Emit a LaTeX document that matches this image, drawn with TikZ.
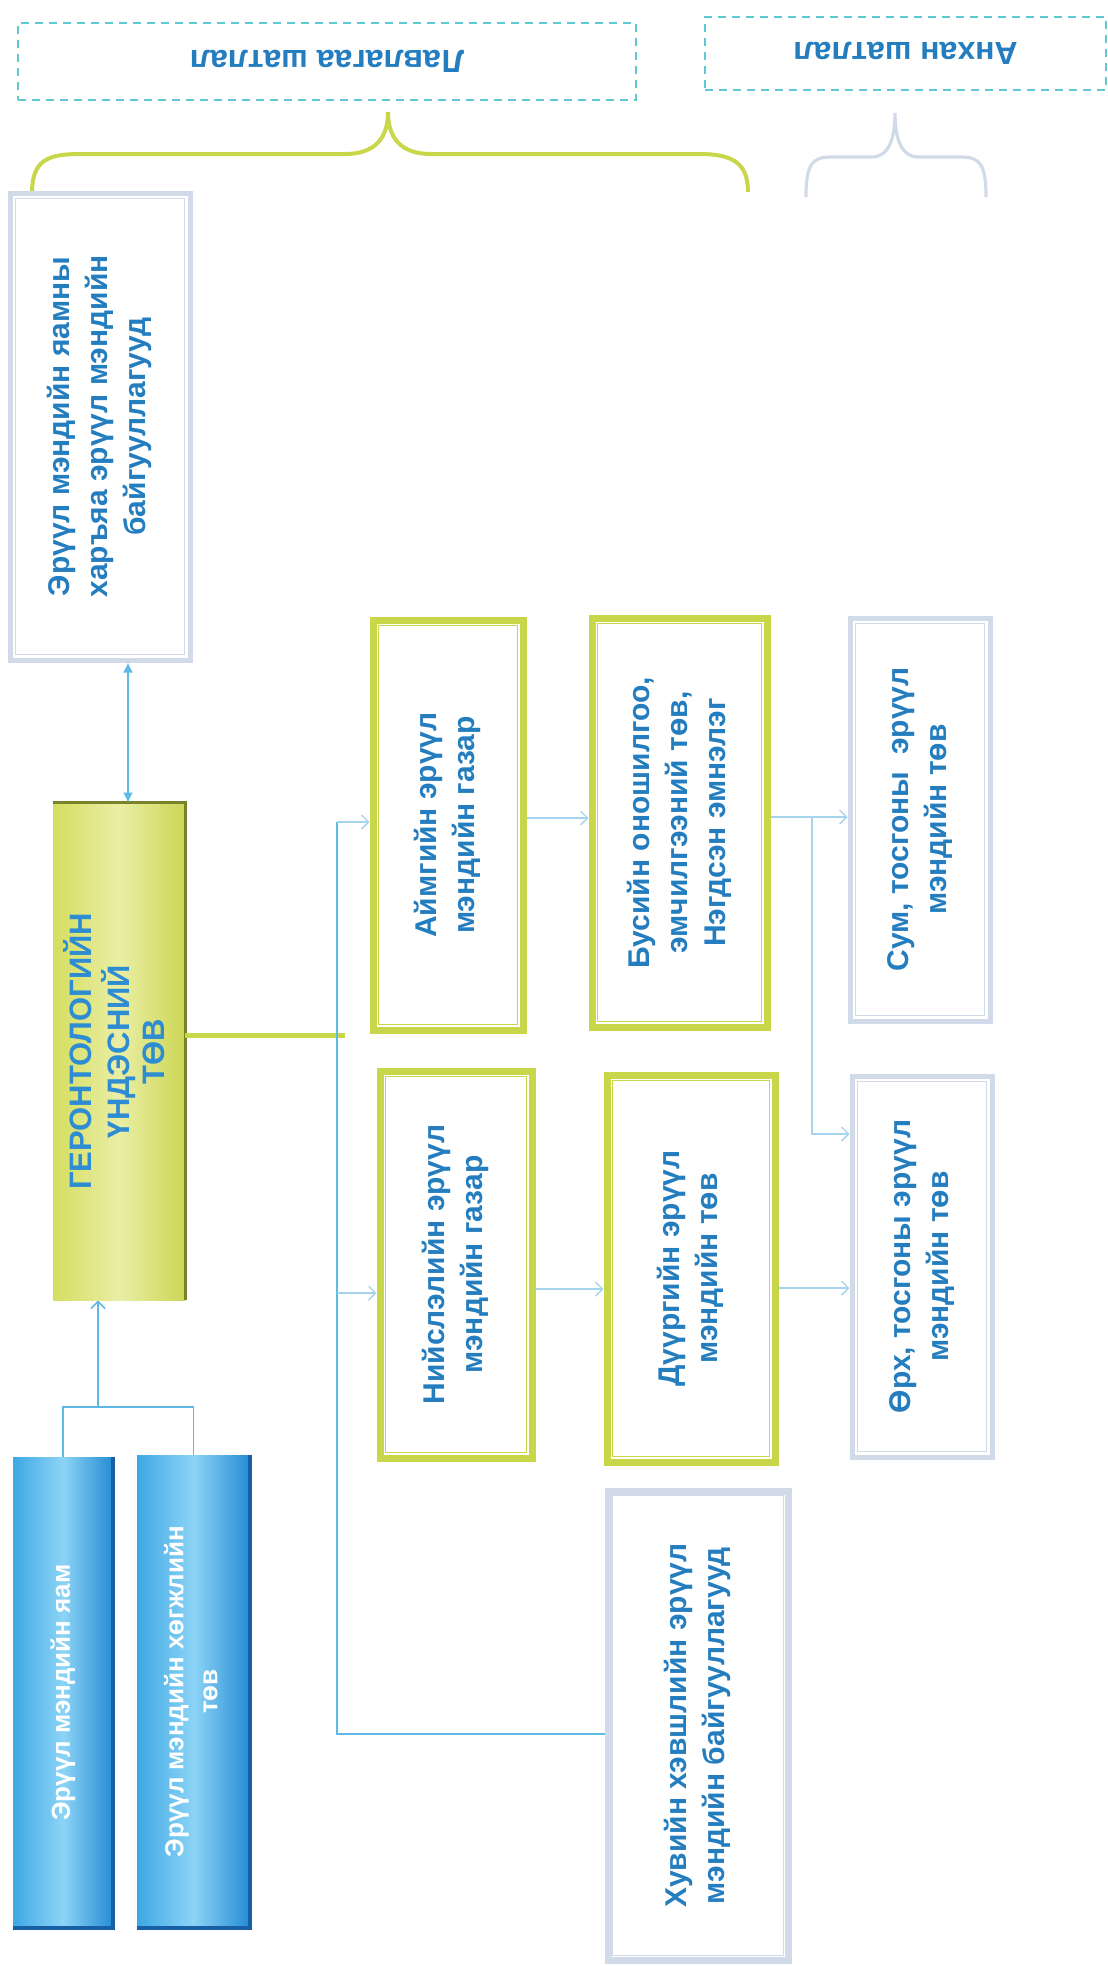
\documentclass[tikz,border=0pt]{standalone}
\usepackage{fontspec}
\setmainfont{Liberation Sans}
\usepackage{graphicx}
\usetikzlibrary{arrows.meta}
\usetikzlibrary{calc}

\definecolor{txtblue}{RGB}{35,125,190}
\definecolor{grlime}{RGB}{200,214,74}
\definecolor{limedark}{RGB}{120,130,42}
\definecolor{greyline}{RGB}{208,218,232}
\definecolor{linkblue}{RGB}{165,212,236}
\definecolor{linkdark}{RGB}{95,185,230}
\definecolor{dashcyan}{RGB}{95,200,212}
\definecolor{skyA}{RGB}{62,168,228}
\definecolor{skyB}{RGB}{140,212,246}
\definecolor{skyC}{RGB}{38,140,212}
\definecolor{skyedge}{RGB}{25,95,165}

\newcommand{\vtext}[1]{\rotatebox{90}{\begin{tabular}{@{}c@{}}#1\end{tabular}}}
\newcommand{\flipped}[1]{\rotatebox{180}{#1}}

\begin{document}
\begin{tikzpicture}[x=0.5pt, y=-0.5pt,
    >={Straight Barb[length=3.5pt, width=7pt]},
    box/.style={inner sep=0pt, text=txtblue, font=\fontsize{15}{19}\selectfont\bfseries},
    greenbox/.style={box, draw=grlime, line width=3.5pt, fill=white},
    greybox/.style={box, draw=greyline, line width=2.5pt, fill=white},
    bluebox/.style={box, text=white, font=\fontsize{13}{17}\selectfont\bfseries,
                    left color=skyA, right color=skyC, middle color=skyB},
    level/.style={box, draw=dashcyan, line width=0.8pt, dash pattern=on 4pt off 3pt,
                  font=\fontsize{16}{19}\selectfont\bfseries},
    link/.style={draw=linkblue, line width=0.7pt},
    strong link/.style={draw=linkdark, line width=0.8pt}]

    \useasboundingbox (0,0) rectangle (1108,1966);

    % levels on top (printed upside down)
    \node [level, minimum width=309pt, minimum height=38.5pt] (ref) at (327,61.5) {\flipped{Лавлагаа шатлал}};
    \node [level, minimum width=200.5pt, minimum height=36.5pt] (prim) at (905.5,53.5) {\flipped{Анхан шатлал}};

    \draw [grlime, line width=2pt] (32,193) .. controls (32,160) and (48,154) .. (80,154) -- (345,154)
          .. controls (375,154) and (388,138) .. (388,112) .. controls (388,138) and (401,154) .. (431,154)
          -- (700,154) .. controls (735,154) and (748,165) .. (748,192);
    \draw [greyline, line width=1.6pt] (806,197) .. controls (806,165) and (812,157) .. (830,157) -- (872,157)
          .. controls (888,157) and (895,140) .. (895,113) .. controls (895,140) and (902,157) .. (918,157)
          -- (962,157) .. controls (980,157) and (986,165) .. (986,197);

    % boxes
    \node [greybox, minimum width=90pt, minimum height=233.5pt] (yamny) at (100,426.5)
          {\vtext{Эрүүл мэндийн яамны\\харъяа эрүүл мэндийн\\байгууллагууд}};
    \node [box, minimum width=66pt, minimum height=248.5pt, text={rgb,255:red,45;green,140;blue,210},
           font=\fontsize{15.5}{17.5}\selectfont\bfseries,
           left color={rgb,255:red,212;green,222;blue,96}, right color={rgb,255:red,204;green,214;blue,84},
           middle color={rgb,255:red,234;green,238;blue,165}] (geron) at (119,1051.5)
          {\vtext{ГЕРОНТОЛОГИЙН\\ҮНДЭСНИЙ\\ТӨВ}};
    \draw [limedark, line width=1.6pt] (geron.north west) -- (geron.north east) -- (geron.south east);

    \node [greenbox, minimum width=75pt, minimum height=205pt] (aimag) at (448,825)
          {\vtext{Аймгийн эрүүл\\мэндийн газар}};
    \node [greenbox, minimum width=87.5pt, minimum height=204.5pt] (busiin) at (679.5,822.5)
          {\vtext{Бусийн оношилгоо,\\эмчилгээний төв,\\Нэгдсэн эмнэлэг}};
    \node [greybox, minimum width=70pt, minimum height=201.5pt] (sum) at (920,819.5)
          {\vtext{Сум, тосгоны~~эрүүл\\мэндийн төв}};
    \node [greenbox, minimum width=76pt, minimum height=193.5pt] (niisl) at (456,1264.5)
          {\vtext{Нийслэлийн эрүүл\\мэндийн газар}};
    \node [greenbox, minimum width=84pt, minimum height=193.5pt] (duureg) at (691,1268.5)
          {\vtext{Дүүргийн эрүүл\\мэндийн төв}};
    \node [greybox, minimum width=70pt, minimum height=190.5pt] (orkh) at (922,1266.5)
          {\vtext{Өрх, тосгоны эрүүл\\мэндийн төв}};
    \node [greybox, line width=3.5pt, minimum width=90pt, minimum height=234.5pt] (khuviin) at (698,1725.5)
          {\vtext{Хувийн хэвшлийн эрүүл\\мэндийн байгууллагууд}};

    \node [bluebox, minimum width=50pt, minimum height=235.5pt] (yam) at (63,1692.5)
          {\vtext{Эрүүл мэндийн яам}};
    \node [bluebox, minimum width=56.5pt, minimum height=236.5pt] (khugjil) at (193.5,1691.5)
          {\vtext{Эрүүл мэндийн хөгжлийн\\төв}};
    \foreach \n in {yam,khugjil}
      \draw [skyedge, line width=2pt] (\n.north east) -- (\n.south east) -- (\n.south west);

    % inner frames
    \foreach \n in {aimag,busiin,niisl,duureg}
      \draw [grlime, line width=0.8pt] ([shift={(4.5pt,-4.5pt)}]\n.north west) rectangle ([shift={(-4.5pt,4.5pt)}]\n.south east);
    \foreach \n in {yamny,sum,orkh,khuviin}
      \draw [greyline, line width=0.6pt] ([shift={(4pt,-4pt)}]\n.north west) rectangle ([shift={(-4pt,4pt)}]\n.south east);

    % connectors
    \draw [strong link, {Latex[length=5pt,width=5pt]}-{Latex[length=5pt,width=5pt]}] (geron.north -| 128,0) -- (yamny.south -| 128,0);

    \coordinate (join) at (98,1407);
    \draw [strong link] (yam.north) |- (join) -| (khugjil.north);
    \draw [strong link, ->] (join) -- (join |- geron.south);

    \coordinate (gend) at (345,1035);
    \draw [grlime, line width=2.5pt] (geron.east |- gend) -- (gend);

    \coordinate (spine) at (337,822);
    \coordinate (spinelow) at (337,1734);
    \draw [strong link] (spine) -- (spinelow) -- (khuviin.west |- spinelow);
    \draw [link, ->] (spine) -- (aimag.west |- spine);
    \draw [link, ->] (spine |- 0,1293) -- (niisl.west |- 0,1293);

    \draw [link, ->] (aimag.east |- 0,818) -- (busiin.west |- 0,818);
    \draw [link, ->] (niisl.east |- 0,1289) -- (duureg.west |- 0,1289);
    \draw [link, ->] (duureg.east |- 0,1288) -- (orkh.west |- 0,1288);

    \coordinate (fork) at (812,817);
    \draw [link, ->] (busiin.east |- fork) -- (sum.west |- fork);
    \draw [link, ->] (fork) |- (orkh.west |- 0,1134);

\end{tikzpicture}
\end{document}
